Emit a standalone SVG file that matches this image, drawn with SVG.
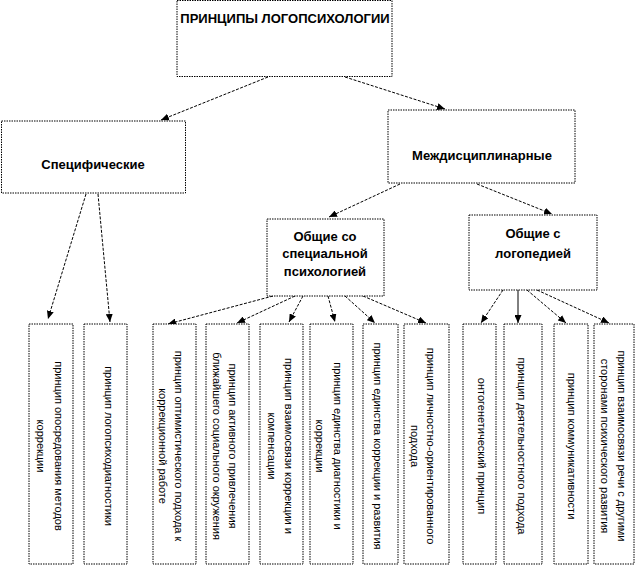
<svg xmlns="http://www.w3.org/2000/svg" width="639" height="568" viewBox="0 0 639 568">
<style>
.box{fill:#fff;stroke:#000;stroke-width:1;stroke-dasharray:1.5 1}
.h{font-family:"Liberation Sans",Arial,sans-serif;font-weight:bold;font-size:13px;fill:#000;text-anchor:middle}
.t{font-family:"Liberation Sans",Arial,sans-serif;font-size:11px;fill:#000;text-anchor:middle}
.c{fill:none;stroke:#000;stroke-width:1;stroke-dasharray:3 1.5;marker-end:url(#ah)}
.s{fill:none;stroke:#000;stroke-width:1;marker-end:url(#ah)}
</style>
<defs>
<marker id="ah" markerUnits="userSpaceOnUse" markerWidth="9" markerHeight="7" refX="8" refY="3.5" orient="auto">
<path d="M0,0 L8,3.5 L0,7 z" fill="#000"/>
</marker>
</defs>
<rect width="639" height="568" fill="#fff"/>
<g id="connectors">
<line class="c" x1="268" y1="77" x2="161" y2="120"/>
<line class="c" x1="345" y1="77" x2="445" y2="109"/>
<line class="c" x1="86" y1="194" x2="48" y2="319"/>
<line class="c" x1="98" y1="194" x2="110" y2="322"/>
<line class="c" x1="400" y1="184" x2="329" y2="217"/>
<line class="c" x1="477" y1="184" x2="552" y2="214"/>
<line class="c" x1="273" y1="296" x2="168" y2="324"/>
<line class="c" x1="295" y1="296" x2="237" y2="323"/>
<line class="c" x1="303" y1="296" x2="289" y2="322"/>
<line class="c" x1="328" y1="296" x2="335" y2="322"/>
<line class="c" x1="345" y1="296" x2="375" y2="323"/>
<line class="c" x1="363" y1="296" x2="426" y2="323"/>
<line class="c" x1="503" y1="290" x2="481" y2="323"/>
<line class="s" x1="518" y1="290" x2="518" y2="323"/>
<line class="c" x1="527" y1="290" x2="566" y2="323"/>
<line class="c" x1="537" y1="290" x2="609" y2="323"/>
</g>
<g id="root">
<rect class="box" x="177" y="0.5" width="215" height="76"/>
<text class="h" x="285" y="23">ПРИНЦИПЫ ЛОГОПСИХОЛОГИИ</text>
</g>
<g id="specific">
<rect class="box" x="1.5" y="121" width="184" height="72"/>
<text class="h" x="93" y="169">Специфические</text>
</g>
<g id="interdisc">
<rect class="box" x="388" y="110" width="187" height="73"/>
<text class="h" x="482" y="160">Междисциплинарные</text>
</g>
<g id="general-special">
<rect class="box" x="267" y="219" width="117" height="77"/>
<text class="h" x="325" y="241">Общие со</text>
<text class="h" x="325" y="258">специальной</text>
<text class="h" x="325" y="276">психологией</text>
</g>
<g id="general-logo">
<rect class="box" x="469" y="215" width="128" height="75"/>
<text class="h" x="533" y="238">Общие с</text>
<text class="h" x="533" y="258">логопедией</text>
</g>
<g id="p1">
<rect class="box" x="29" y="324" width="44" height="240"/>
<text class="t" transform="translate(55,446) rotate(90)">принцип опосредования методов</text>
<text class="t" transform="translate(37,446) rotate(90)">коррекции</text>
</g>
<g id="p2">
<rect class="box" x="84" y="324" width="43" height="240"/>
<text class="t" transform="translate(105,446) rotate(90)">принцип логопсиходиагностики</text>
</g>
<g id="p3">
<rect class="box" x="153" y="324" width="43" height="240"/>
<text class="t" transform="translate(175,446) rotate(90)">принцип оптимистического подхода к</text>
<text class="t" transform="translate(159,446) rotate(90)">коррекционной работе</text>
</g>
<g id="p4">
<rect class="box" x="206" y="324" width="43" height="240"/>
<text class="t" transform="translate(229,446) rotate(90)">принцип активного привлечения</text>
<text class="t" transform="translate(213,446) rotate(90)">ближайшего социального окружения</text>
</g>
<g id="p5">
<rect class="box" x="260" y="324" width="43" height="240"/>
<text class="t" transform="translate(285,446) rotate(90)">принцип взаимосвязи коррекции и</text>
<text class="t" transform="translate(268,446) rotate(90)">компенсации</text>
</g>
<g id="p6">
<rect class="box" x="310" y="324" width="43" height="240"/>
<text class="t" transform="translate(334,446) rotate(90)">принцип единства диагностики и</text>
<text class="t" transform="translate(316,446) rotate(90)">коррекции</text>
</g>
<g id="p7">
<rect class="box" x="363" y="324" width="35" height="240"/>
<text class="t" transform="translate(374,446) rotate(90)">принцип единства коррекции и развития</text>
</g>
<g id="p8">
<rect class="box" x="404" y="324" width="45" height="240"/>
<text class="t" transform="translate(427,446) rotate(90)">принцип личностно-ориентированного</text>
<text class="t" transform="translate(411,446) rotate(90)">подхода</text>
</g>
<g id="p9">
<rect class="box" x="463" y="324" width="33" height="240"/>
<text class="t" transform="translate(478,446) rotate(90)">онтогенетический принцип</text>
</g>
<g id="p10">
<rect class="box" x="504" y="324" width="38" height="240"/>
<text class="t" transform="translate(518,446) rotate(90)">принцип деятельностного подхода</text>
</g>
<g id="p11">
<rect class="box" x="554" y="324" width="34" height="240"/>
<text class="t" transform="translate(568,446) rotate(90)">принцип коммуникативности</text>
</g>
<g id="p12">
<rect class="box" x="594" y="324" width="40" height="240"/>
<text class="t" transform="translate(618,446) rotate(90)">принцип взаимосвязи речи с другими</text>
<text class="t" transform="translate(601,446) rotate(90)">сторонами психического развития</text>
</g>
</svg>
